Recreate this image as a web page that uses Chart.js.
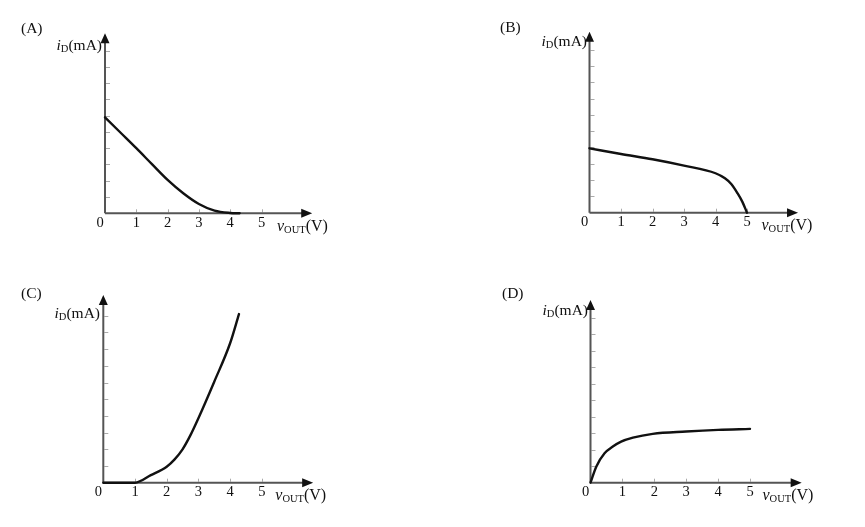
<!DOCTYPE html>
<html>
<head>
<meta charset="utf-8">
<title>iD vs vOUT</title>
<script src="https://cdn.jsdelivr.net/npm/chart.js@4.4.1/dist/chart.umd.min.js"></script>
<style>
  html, body { margin: 0; padding: 0; background: #fff; }
  #page { position: relative; width: 865px; height: 527px; overflow: hidden; }
  canvas { position: absolute; }
</style>
</head>
<body>
<div id="page">
  <canvas id="chartA"></canvas>
  <canvas id="chartB"></canvas>
  <canvas id="chartC"></canvas>
  <canvas id="chartD"></canvas>
</div>
<script>
'use strict';

/* ---- data ---- */
const xTicks     = [0, 1, 2, 3, 4, 5];
const yTicks     = [1, 2, 3, 4, 5, 6, 7, 8, 9, 10];
const panelNames = ['(A)', '(B)', '(C)', '(D)'];

// (A) falling, dies out near 4 V
const vA = [0, 0.5, 1, 1.5, 2, 2.5, 3, 3.5, 4, 4.3];
const iA = [5.9, 4.95, 4.0, 3.02, 2.05, 1.23, 0.57, 0.16, 0.02, 0];

// (B) slowly falling, drops to zero at 5 V
const vB = [0, 1, 2, 3, 4, 4.3, 4.5, 4.7, 4.85, 5];
const iB = [3.95, 3.6, 3.28, 2.89, 2.42, 2.11, 1.76, 1.19, 0.68, 0];

// (C) zero until 1 V, then rising
const vC = [0, 1, 1.5, 2, 2.25, 2.5, 2.75, 3, 3.5, 4, 4.28];
const iC = [0, 0, 0.45, 0.96, 1.4, 2.0, 2.85, 3.86, 6.05, 8.35, 10.1];

// (D) quick rise then saturates
const vD = [0, 0.18, 0.44, 0.7, 0.96, 1.33, 1.95, 3, 4, 5];
const iD = [0, 0.97, 1.78, 2.19, 2.49, 2.73, 2.96, 3.1, 3.2, 3.26];

/* ---- layout / style ---- */
const FONT        = "'Liberation Serif', 'Times New Roman', serif";
const AXIS_COLOR  = '#555';
const TICK_COLOR  = '#aaa';
const CURVE_COLOR = '#111';
const TEXT_COLOR  = '#111';
const W = 432, H = 263;
const X_MAX = 6.62;

const panels = [
  { id: 'chartA', name: panelNames[0], v: vA, i: iA, left: 0,   top: 0,
    ox: 105,   oy: 213.3, ux: 31.3, uy: 16.27, yMax: 11.06, nameAt: [21, 29],  yLabelAt: [102, 46] },
  { id: 'chartB', name: panelNames[1], v: vB, i: iB, left: 432, top: 0,
    ox: 589.5, oy: 212.7, ux: 31.5, uy: 16.3,  yMax: 11.1,  nameAt: [500, 28], yLabelAt: [587, 42] },
  { id: 'chartC', name: panelNames[2], v: vC, i: iC, left: 0,   top: 263,
    ox: 103.3, oy: 482.7, ux: 31.7, uy: 16.7,  yMax: 11.24, nameAt: [21, 294], yLabelAt: [100, 314] },
  { id: 'chartD', name: panelNames[3], v: vD, i: iD, left: 432, top: 263,
    ox: 590.5, oy: 482.7, ux: 31.9, uy: 16.5,  yMax: 11.07, nameAt: [502, 294], yLabelAt: [588, 311] },
];

// text made of pieces: italic letter, subscript, plain rest
function pieceFont(pc) {
  return (pc.italic ? 'italic ' : '') + pc.size + 'px ' + FONT;
}
function drawPieces(ctx, x, baseline, pieces, alignRight) {
  let total = 0;
  pieces.forEach(pc => { ctx.font = pieceFont(pc); total += ctx.measureText(pc.t).width; });
  let cx = alignRight ? x - total : x;
  ctx.textAlign = 'left';
  ctx.textBaseline = 'alphabetic';
  pieces.forEach(pc => {
    ctx.font = pieceFont(pc);
    ctx.fillText(pc.t, cx, baseline + (pc.dy || 0));
    cx += ctx.measureText(pc.t).width;
  });
}

function makeAxes(p) {
  return {
    id: 'vAxes' + p.id,
    beforeDatasetsDraw(chart) {
      const ctx = chart.ctx;
      const xs = chart.scales.x, ys = chart.scales.y;
      const x0 = xs.getPixelForValue(0), y0 = ys.getPixelForValue(0);
      const xEnd = xs.getPixelForValue(X_MAX), yEnd = ys.getPixelForValue(p.yMax);
      ctx.save();

      // minor ticks (inside the axes)
      ctx.strokeStyle = TICK_COLOR;
      ctx.lineWidth = 1;
      ctx.beginPath();
      yTicks.forEach(t => {
        const py = Math.round(ys.getPixelForValue(t)) + 0.5;
        ctx.moveTo(x0 + 1, py); ctx.lineTo(x0 + 5, py);
      });
      xTicks.slice(1).forEach(t => {
        const px = Math.round(xs.getPixelForValue(t)) + 0.5;
        ctx.moveTo(px, y0 - 1); ctx.lineTo(px, y0 - 4);
      });
      ctx.stroke();

      // axis lines
      ctx.strokeStyle = AXIS_COLOR;
      ctx.lineWidth = 2;
      ctx.beginPath();
      ctx.moveTo(x0, y0); ctx.lineTo(xEnd - 9, y0);
      ctx.moveTo(x0, y0); ctx.lineTo(x0, yEnd + 8);
      ctx.stroke();

      // arrow heads
      ctx.fillStyle = '#111';
      ctx.beginPath();
      ctx.moveTo(xEnd, y0); ctx.lineTo(xEnd - 11, y0 - 4.5); ctx.lineTo(xEnd - 11, y0 + 4.5);
      ctx.closePath();
      ctx.moveTo(x0, yEnd); ctx.lineTo(x0 - 4.5, yEnd + 10); ctx.lineTo(x0 + 4.5, yEnd + 10);
      ctx.closePath();
      ctx.fill();

      // tick labels
      ctx.fillStyle = TEXT_COLOR;
      ctx.font = '14.5px ' + FONT;
      ctx.textAlign = 'center';
      ctx.textBaseline = 'alphabetic';
      xTicks.forEach(t => {
        const px = xs.getPixelForValue(t) + (t === 0 ? -5 : 0);
        ctx.fillText(String(t), px, y0 + 13.5);
      });

      // axis titles
      drawPieces(ctx, x0 + 172, y0 + 17.5, [
        { t: 'v', size: 16, italic: true },
        { t: 'OUT', size: 10.5, dy: 2 },
        { t: '(V)', size: 16 },
      ], false);
      drawPieces(ctx, p.yLabelAt[0] - p.left, p.yLabelAt[1] - p.top + 3.5, [
        { t: 'i', size: 15.5, italic: true },
        { t: 'D', size: 10.5, dy: 2 },
        { t: '(mA)', size: 15.5 },
      ], true);

      // panel letter
      ctx.font = '15.5px ' + FONT;
      ctx.textAlign = 'left';
      ctx.fillText(p.name, p.nameAt[0] - p.left, p.nameAt[1] - p.top + 3.5);

      ctx.restore();
    },
  };
}

panels.forEach(p => {
  const canvas = document.getElementById(p.id);
  canvas.width = W;
  canvas.height = H;
  canvas.style.left = p.left + 'px';
  canvas.style.top = p.top + 'px';

  const pad = {
    left:   p.ox - p.left,
    top:    p.oy - p.top - p.yMax * p.uy,
    right:  p.left + W - (p.ox + X_MAX * p.ux),
    bottom: p.top + H - p.oy,
  };

  new Chart(canvas, {
    type: 'line',
    data: {
      datasets: [{
        data: p.v.map((v, k) => ({ x: v, y: p.i[k] })),
        borderColor: CURVE_COLOR,
        borderWidth: 2.4,
        borderCapStyle: 'round',
        borderJoinStyle: 'round',
        pointRadius: 0,
        fill: false,
        cubicInterpolationMode: 'monotone',
        clip: false,
      }],
    },
    options: {
      responsive: false,
      animation: false,
      events: [],
      layout: { padding: pad },
      plugins: { legend: { display: false }, tooltip: { enabled: false } },
      scales: {
        x: { type: 'linear', min: 0, max: X_MAX, display: false },
        y: { type: 'linear', min: 0, max: p.yMax, display: false },
      },
    },
    plugins: [makeAxes(p)],
  });
});
</script>
</body>
</html>
